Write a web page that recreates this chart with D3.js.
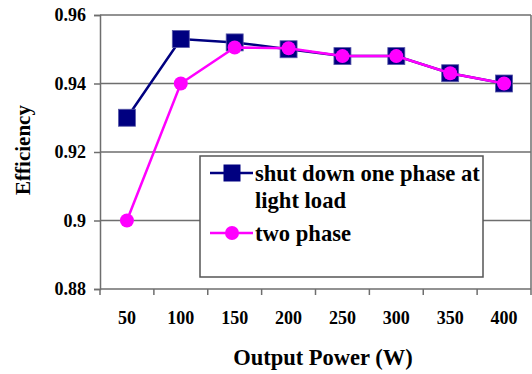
<!DOCTYPE html>
<html>
<head>
<meta charset="utf-8">
<script src="https://cdn.jsdelivr.net/npm/d3@7"></script>
<style>
  html, body { margin: 0; padding: 0; background: #fff; }
  svg { display: block; }
</style>
</head>
<body>
<svg id="chart" width="532" height="374"></svg>
<script>
// Output power levels (W)
const categories = ["50", "100", "150", "200", "250", "300", "350", "400"];
// Efficiency when one phase is shut down at light load
const shutDownValues = [0.930, 0.953, 0.952, 0.950, 0.948, 0.948, 0.943, 0.940];
// Efficiency with both phases running
const twoPhaseValues = [0.900, 0.940, 0.9505, 0.9503, 0.948, 0.948, 0.943, 0.940];
const yTicks = [0.88, 0.90, 0.92, 0.94, 0.96];
const yTickLabels = ["0.88", "0.9", "0.92", "0.94", "0.96"];
const seriesNames = ["shut down one phase at", "light load", "two phase"];

const serif = "'Liberation Serif', 'Times New Roman', Times, 'DejaVu Serif', serif";
const svg = d3.select("#chart");
const plotLeft = 100, plotRight = 531, plotTop = 15, plotBottom = 289;

const x = d3.scaleBand().domain(categories).range([plotLeft, plotRight]).padding(0);
const y = d3.scaleLinear().domain([0.88, 0.96]).range([plotBottom, plotTop]);
const cx = d => x(d) + x.bandwidth() / 2;

const gridColor = "#6e6e6e";
const label = sel => sel.style("font-family", serif).style("font-weight", "bold").attr("fill", "#000");

// Horizontal gridlines
svg.append("g").selectAll("line").data(yTicks.slice(1)).join("line")
  .attr("x1", plotLeft).attr("x2", plotRight)
  .attr("y1", d => y(d)).attr("y2", d => y(d))
  .attr("stroke", gridColor).attr("stroke-width", 1.5);

// Right border of the plot area
svg.append("line")
  .attr("x1", plotRight).attr("x2", plotRight).attr("y1", plotTop).attr("y2", plotBottom)
  .attr("stroke", gridColor).attr("stroke-width", 1.5);

// Y axis
const yAxis = d3.axisLeft(y).tickValues(yTicks)
  .tickFormat((d, i) => yTickLabels[i]).tickSize(6).tickPadding(8);
const gy = svg.append("g").attr("transform", `translate(${plotLeft},0)`).call(yAxis);
gy.select(".domain").attr("stroke", gridColor).attr("stroke-width", 1.5);
gy.selectAll(".tick line").attr("stroke", gridColor).attr("stroke-width", 1.5);
gy.selectAll(".tick text").style("font-size", "18px").call(label);

// X axis: ticks sit on category boundaries, labels at category centres
const gx = svg.append("g").attr("transform", `translate(0,${plotBottom})`);
gx.append("line").attr("x1", plotLeft).attr("x2", plotRight).attr("y1", 0).attr("y2", 0)
  .attr("stroke", gridColor).attr("stroke-width", 1.5);
const boundaries = categories.map(d => x(d)).concat([plotRight]);
gx.selectAll("line.tk").data(boundaries).join("line").attr("class", "tk")
  .attr("x1", d => d).attr("x2", d => d).attr("y1", 0).attr("y2", 6)
  .attr("stroke", gridColor).attr("stroke-width", 1.5);
gx.selectAll("text").data(categories).join("text")
  .attr("x", d => cx(d)).attr("y", 35)
  .attr("text-anchor", "middle").style("font-size", "18px").call(label).text(d => d);

// Axis titles
svg.append("text").attr("x", 323).attr("y", 365).attr("text-anchor", "middle")
  .style("font-size", "22.5px").call(label).text("Output Power (W)");
svg.append("text").attr("transform", "translate(30,150) rotate(-90)")
  .attr("text-anchor", "middle").style("font-size", "21px").call(label).text("Efficiency");

const navy = "#000080", magenta = "#ff00ff";
const line = d3.line().x((d, i) => cx(categories[i])).y(d => y(d));

// Shut-down-one-phase series (squares)
svg.append("path").datum(shutDownValues).attr("d", line)
  .attr("fill", "none").attr("stroke", navy).attr("stroke-width", 2.5);
const sq = 17;
svg.append("g").selectAll("rect").data(shutDownValues).join("rect")
  .attr("x", (d, i) => cx(categories[i]) - sq / 2)
  .attr("y", d => y(d) - sq / 2)
  .attr("width", sq).attr("height", sq)
  .attr("fill", navy).attr("stroke", "#5a5aa8").attr("stroke-width", 0.8);

// Two-phase series (circles)
svg.append("path").datum(twoPhaseValues).attr("d", line)
  .attr("fill", "none").attr("stroke", magenta).attr("stroke-width", 2.5);
svg.append("g").selectAll("circle").data(twoPhaseValues).join("circle")
  .attr("cx", (d, i) => cx(categories[i])).attr("cy", d => y(d))
  .attr("r", 7).attr("fill", magenta);

// Legend
const lg = svg.append("g");
lg.append("rect").attr("x", 200).attr("y", 156).attr("width", 283).attr("height", 121)
  .attr("fill", "#fff").attr("stroke", "#555").attr("stroke-width", 1.5);
lg.append("line").attr("x1", 210).attr("x2", 253).attr("y1", 173).attr("y2", 173)
  .attr("stroke", navy).attr("stroke-width", 2.5);
lg.append("rect").attr("x", 232 - sq / 2).attr("y", 173 - sq / 2)
  .attr("width", sq).attr("height", sq).attr("fill", navy);
lg.append("line").attr("x1", 210).attr("x2", 253).attr("y1", 233).attr("y2", 233)
  .attr("stroke", magenta).attr("stroke-width", 2.5);
lg.append("circle").attr("cx", 232).attr("cy", 233).attr("r", 7).attr("fill", magenta);
lg.append("text").attr("x", 255).attr("y", 181).style("font-size", "22.6px").call(label).text(seriesNames[0]);
lg.append("text").attr("x", 255).attr("y", 208).style("font-size", "22.6px").call(label).text(seriesNames[1]);
lg.append("text").attr("x", 255).attr("y", 241).style("font-size", "22.6px").call(label).text(seriesNames[2]);
</script>
</body>
</html>
